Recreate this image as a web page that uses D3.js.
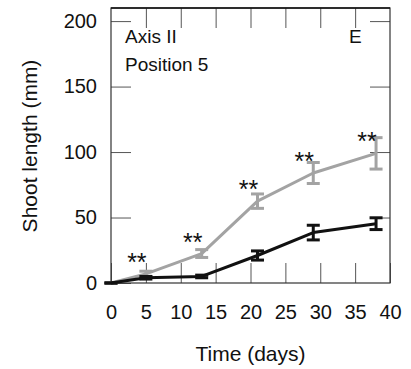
<!DOCTYPE html>
<html>
<head>
<meta charset="utf-8">
<script src="https://cdn.jsdelivr.net/npm/d3@7"></script>
<style>
html,body{margin:0;padding:0;background:#fff;}
svg{display:block;font-family:"Liberation Sans",Arial,sans-serif;}
</style>
</head>
<body>
<svg id="chart" width="411" height="369"></svg>
<script>
// ---- data ----
const days = [0, 5, 13, 21, 29, 38];
const grayMeans = [0, 7, 22.5, 62.5, 84, 99];
const grayErrors = [0, 2, 3, 5.5, 8, 12];
const blackMeans = [0, 4, 5, 21, 38.5, 45.3];
const blackErrors = [0, 1, 1, 3.5, 5.6, 4.5];
const sigDays = [5, 13, 21, 29, 38];
const sigLabels = ["**", "**", "**", "**", "**"];
const xTicks = [0, 5, 10, 15, 20, 25, 30, 35, 40];
const yTicks = [0, 50, 100, 150, 200];
const panelLabels = ["Axis II", "Position 5"];
const panelLetter = "E";

const W = 411, H = 369;
const m = {left: 111, right: 21, top: 8, bottom: 86};
const svg = d3.select("#chart");
const x = d3.scaleLinear().domain([0, 40]).range([m.left, W - m.right]);
const y = d3.scaleLinear().domain([0, 210]).range([H - m.bottom, m.top]);

const tickColor = "#555";
const fontSize = 20;

// axes
const gx = svg.append("g").attr("transform", `translate(0,${y(0)})`)
  .call(d3.axisBottom(x).tickValues(xTicks).tickSize(-20).tickPadding(22).tickFormat(d3.format("d")));
const gxt = svg.append("g").attr("transform", `translate(0,${y.range()[1]})`)
  .call(d3.axisTop(x).tickValues(xTicks.slice(1, -1)).tickSize(-20).tickFormat(""));
const gy = svg.append("g").attr("transform", `translate(${x(0)},0)`)
  .call(d3.axisLeft(y).tickValues(yTicks).tickSize(-20).tickPadding(14).tickFormat(d3.format("d")));
const gyr = svg.append("g").attr("transform", `translate(${x(40)},0)`)
  .call(d3.axisRight(y).tickValues(yTicks.slice(1)).tickSize(-20).tickFormat(""));

[gx, gxt, gy, gyr].forEach(g => {
  g.select(".domain").remove();
  g.selectAll(".tick line").attr("stroke", tickColor).attr("stroke-width", 1);
  g.selectAll("text").attr("font-size", fontSize).attr("fill", "#111")
    .attr("font-family", "'Liberation Sans', Arial, sans-serif");
});

// frame
svg.append("rect")
  .attr("x", x(0)).attr("y", y.range()[1])
  .attr("width", x(40) - x(0)).attr("height", y(0) - y.range()[1])
  .attr("fill", "none").attr("stroke", "#333").attr("stroke-width", 1.2);
svg.append("line")
  .attr("x1", x(0)).attr("x2", x(40)).attr("y1", y.range()[1]).attr("y2", y.range()[1])
  .attr("stroke", "#111").attr("stroke-width", 1.6);

// series
function drawSeries(means, errs, color) {
  const pts = days.map((d, i) => ({d, v: means[i], e: errs[i]}));
  const line = d3.line().x(p => x(p.d)).y(p => y(p.v));
  svg.append("path").datum(pts).attr("d", line)
    .attr("fill", "none").attr("stroke", color).attr("stroke-width", 3)
    .attr("stroke-linejoin", "round");
  const g = svg.append("g").attr("stroke", color).attr("stroke-width", 3);
  const cap = 6.5;
  pts.forEach(p => {
    g.append("line").attr("x1", x(p.d)).attr("x2", x(p.d))
      .attr("y1", y(p.v - p.e)).attr("y2", y(p.v + p.e));
    g.append("line").attr("x1", x(p.d) - cap).attr("x2", x(p.d) + cap)
      .attr("y1", y(p.v + p.e)).attr("y2", y(p.v + p.e));
    g.append("line").attr("x1", x(p.d) - cap).attr("x2", x(p.d) + cap)
      .attr("y1", y(p.v - p.e)).attr("y2", y(p.v - p.e));
  });
}
drawSeries(grayMeans, grayErrors, "#a3a3a3");
drawSeries(blackMeans, blackErrors, "#111");

// significance markers
sigDays.forEach((d, i) => {
  const idx = days.indexOf(d);
  svg.append("text")
    .attr("x", x(d) - 9).attr("y", y(grayMeans[idx]) - 3)
    .attr("text-anchor", "middle").attr("font-size", 25).attr("fill", "#111")
    .text(sigLabels[i]);
});

// panel texts
svg.append("text").attr("x", 125).attr("y", 43).attr("font-size", 19).attr("fill", "#111").text(panelLabels[0]);
svg.append("text").attr("x", 125).attr("y", 71).attr("font-size", 19).attr("fill", "#111").text(panelLabels[1]);
svg.append("text").attr("x", 349).attr("y", 43).attr("font-size", 19).attr("fill", "#111").text(panelLetter);

// axis titles
svg.append("text")
  .attr("x", (x(0) + x(40)) / 2).attr("y", 361)
  .attr("text-anchor", "middle").attr("font-size", 21).attr("fill", "#111")
  .text("Time (days)");
svg.append("text")
  .attr("transform", `translate(37,${146}) rotate(-90)`)
  .attr("text-anchor", "middle").attr("font-size", 21).attr("fill", "#111")
  .text("Shoot length (mm)");
</script>
</body>
</html>
